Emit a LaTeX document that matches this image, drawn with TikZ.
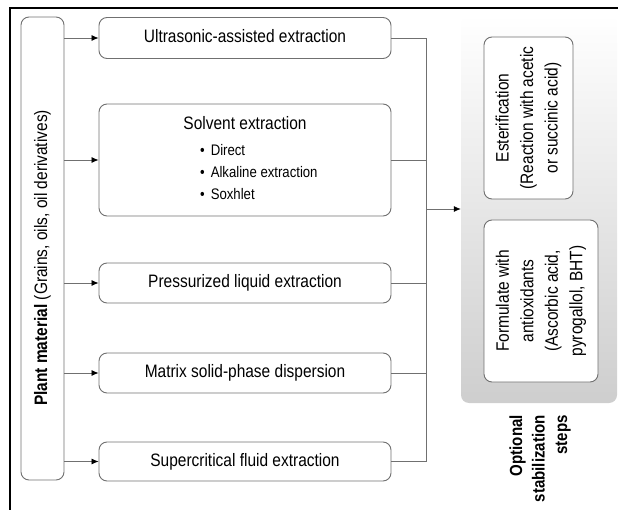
\documentclass[tikz,border=0pt]{standalone}
\usepackage{fontspec}
\setmainfont{Liberation Sans}[FakeStretch=0.86]
\usetikzlibrary{positioning,arrows.meta}
\definecolor{boxLine}{RGB}{112,112,112}
\definecolor{panelGray}{RGB}{206,206,206}
\tikzstyle{diagram} = [x=1pt, y=-1pt]
\tikzstyle{roundBox} = [draw=boxLine, fill=white, rounded corners=8pt, line width=0.9pt, inner sep=0pt]
\tikzstyle{methodBox} = [roundBox, minimum width=292pt, font=\fontsize{18}{21}\selectfont, text height=12.9pt, text depth=3.3pt]
\tikzstyle{sideText} = [rotate=90, align=center, inner sep=0pt, font=\fontsize{18}{24.5}\selectfont]
\tikzstyle{listText} = [align=left, inner sep=0pt, font=\fontsize{15.3}{22}\selectfont]
\tikzstyle{panelStyle} = [rounded corners=8pt, top color=white, bottom color=panelGray, draw=none, minimum width=156pt, minimum height=388pt]
\tikzstyle{linkLine} = [draw=boxLine, line width=0.8pt]
\tikzstyle{linkArrow} = [linkLine, -{Latex[length=7pt, width=6pt, color=black]}]
\newcommand{\methodNode}[4]{\node[methodBox, minimum height=#3pt] (#1) at (245,#2) {#4};}
\newcommand{\bulletItem}[1]{\textbullet\hspace{6pt}#1}

\begin{document}
\begin{tikzpicture}[diagram]
  \useasboundingbox (0,0) rectangle (618,510);
  \draw[line width=1.5pt] (10,510) -- (10,8) -- (618,8);

  % source
  \node[roundBox, minimum width=43pt, minimum height=463pt] (plant) at (42.5,248.5) {};
  \node[sideText] (plantText) at (42.5,258) {\textbf{Plant material} (Grains, oils, oil derivatives)};

  % extraction methods
  \methodNode{ultra}{38}{41}{Ultrasonic-assisted extraction}
  \methodNode{solvent}{160}{112}{}
  \node[methodBox, draw=none, fill=none, minimum width=0pt] (solventTitle) at (245,125) {Solvent extraction};
  \node[listText, anchor=north west] (solventList) at (200,144) {\bulletItem{Direct}\\\bulletItem{Alkaline extraction}\\\bulletItem{Soxhlet}};
  \methodNode{press}{283}{40}{Pressurized liquid extraction}
  \methodNode{matrix}{373}{40}{Matrix solid-phase dispersion}
  \methodNode{super}{461.5}{39}{Supercritical fluid extraction}
  \foreach \m in {ultra,solvent,press,matrix,super}
    \draw[linkArrow] (plant.east |- \m) -- (\m);

  % join into stabilization
  \coordinate (join) at (426,209);
  \draw[linkLine] (ultra.east) -| (join |- super.east) -- (super.east);
  \foreach \m in {solvent,press,matrix}
    \draw[linkLine] (\m.east) -- (\m.east -| join);
  \node[panelStyle] (panel) at (539,209) {};
  \draw[linkArrow] (join) -- (panel);

  \node[roundBox, sideText, minimum width=162pt, minimum height=89pt] (ester) at (528.5,118) {Esterification\\(Reaction with acetic\\or succinic acid)};
  \node[roundBox, sideText, minimum width=162pt, minimum height=114pt] (form) at (541,301) {Formulate with\\antioxidants\\(Ascorbic acid,\\pyrogallol, BHT)};
  \node[sideText, align=right, anchor=east, font=\fontsize{17.5}{22.5}\selectfont\bfseries] (optText) at (540,415) {Optional\\stabilization\\steps};
\end{tikzpicture}
\end{document}
